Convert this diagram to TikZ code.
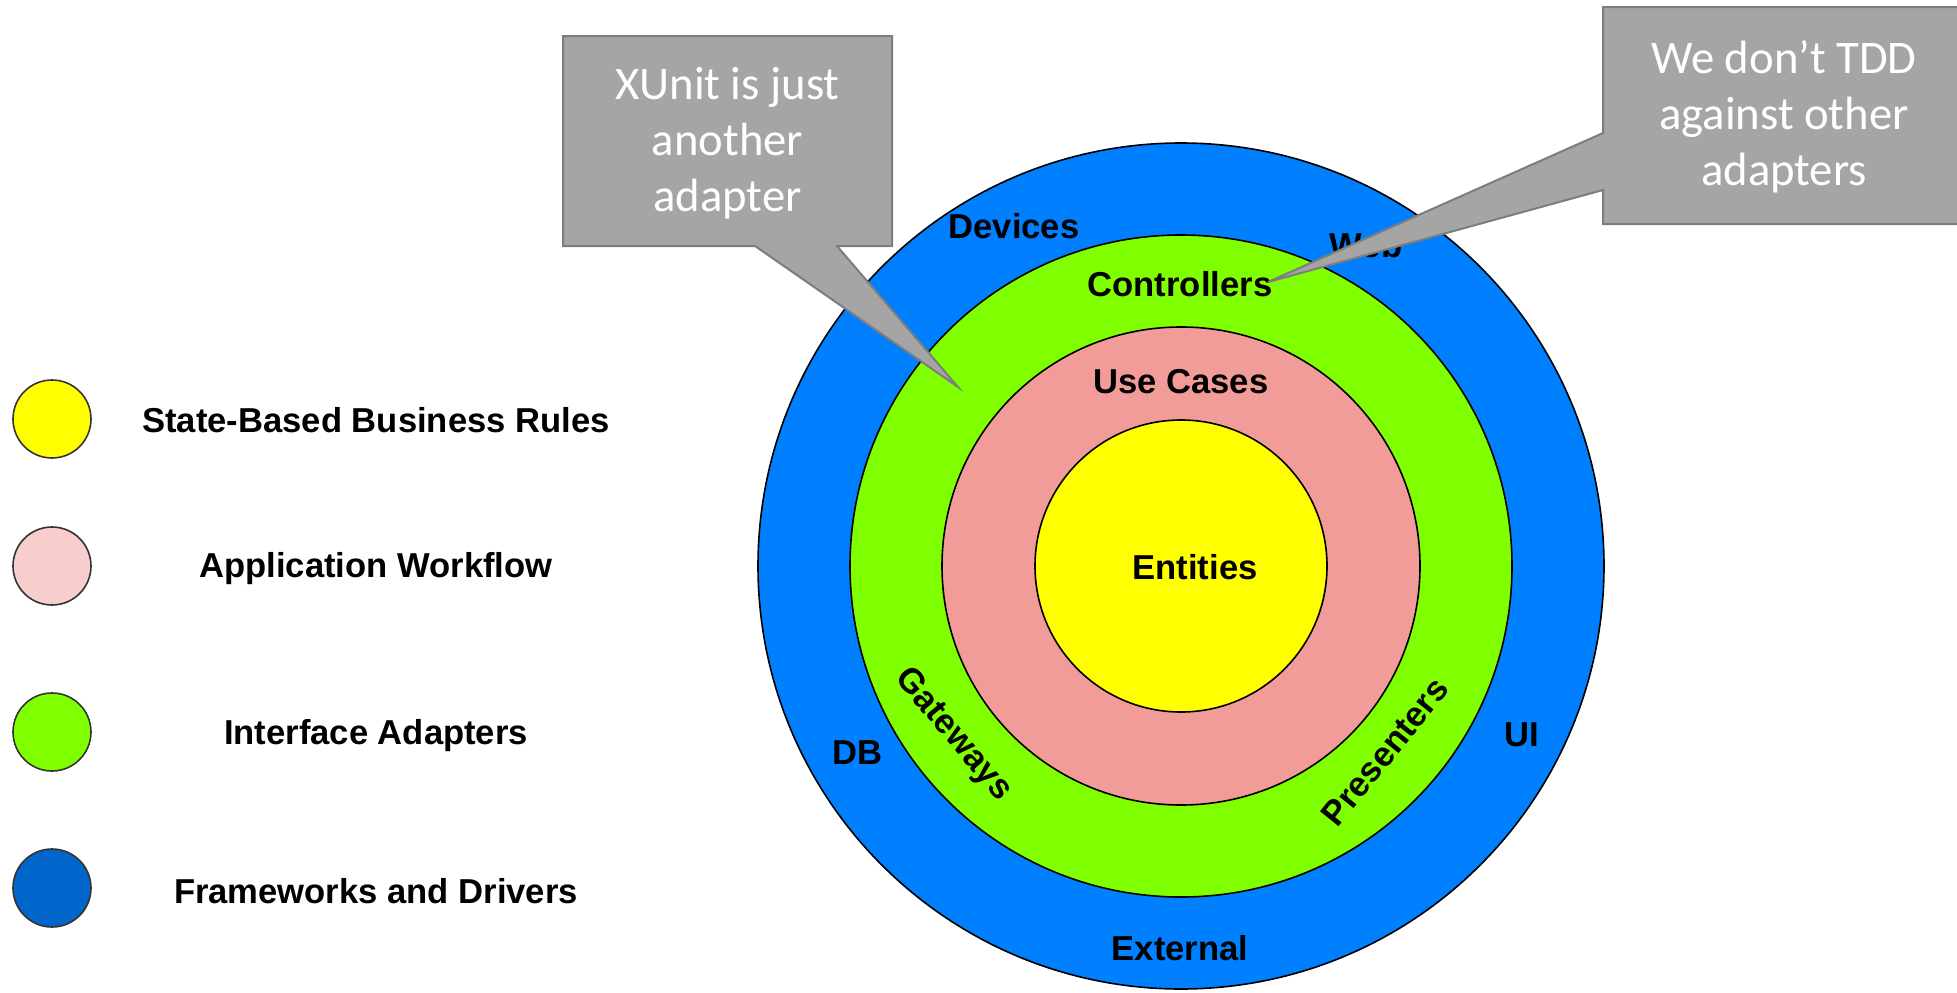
\documentclass[tikz,border=0pt]{standalone}
\usepackage{fontspec}
\setmainfont{Liberation Sans}
\newfontfamily\callfont{Carlito}
\definecolor{ringblue}{RGB}{0,127,255}
\definecolor{ringgreen}{RGB}{128,255,0}
\definecolor{ringpink}{RGB}{241,156,153}
\definecolor{ringyellow}{RGB}{255,255,0}
\definecolor{legpink}{RGB}{248,206,204}
\definecolor{legblue}{RGB}{0,102,204}
\definecolor{callfill}{RGB}{165,165,165}
\definecolor{callline}{RGB}{125,125,125}
\tikzset{
  ring/.style={draw=black, line width=1.6pt},
  legdot/.style={draw=black!80, line width=1.6pt},
  lbl/.style={font=\fontsize{34.6}{40}\selectfont\bfseries, inner sep=0pt},
  calltext/.style={font=\callfont\fontsize{46.7}{56}\selectfont, text=white, align=center, inner sep=0pt},
  callshape/.style={fill=callfill, draw=callline, line width=2pt, line join=miter}
}
\begin{document}
\begin{tikzpicture}[x=1pt,y=-1pt]
\useasboundingbox (0,0) rectangle (1957,993);
% rings
\coordinate (ctr) at (1181,566);
\path[ring, fill=ringblue] (ctr) circle[radius=423pt];
\path[ring, fill=ringgreen] (ctr) circle[radius=331pt];
\path[ring, fill=ringpink] (ctr) circle[radius=239pt];
\path[ring, fill=ringyellow] (ctr) circle[radius=146pt];
% ring labels
\node[lbl] (lEnt) at (1195,567) {Entities};
\node[lbl] (lUse) at (1181,382) {Use Cases};
\node[lbl] (lCtl) at (1180,284) {Controllers};
\node[lbl] (lDev) at (1014,226) {Devices};
\node[lbl] (lWeb) at (1366,245) {Web};
\node[lbl] (lDB) at (857,753) {DB};
\node[lbl] (lUI) at (1522,735) {UI};
\node[lbl] (lExt) at (1180,948) {External};
\node[lbl, rotate=-50] (lGate) at (953,735) {Gateways};
\node[lbl, rotate=51] (lPres) at (1385,752) {Presenters};
% legend
\path[legdot, fill=ringyellow] (52,419) circle[radius=39pt];
\path[legdot, fill=legpink] (52,566) circle[radius=39pt];
\path[legdot, fill=ringgreen] (52,732) circle[radius=39pt];
\path[legdot, fill=legblue] (52,888) circle[radius=39pt];
\node[lbl] (t1) at (376,420) {State-Based Business Rules};
\node[lbl] (t2) at (376,569) {Application Workflow};
\node[lbl] (t3) at (376,736) {Interface Adapters};
\node[lbl] (t4) at (376,891) {Frameworks and Drivers};
% callouts
\coordinate (tipL) at (958,387);
\coordinate (tipR) at (1268,282);
\draw[callshape] (563,36) -- (892,36) -- (892,246) -- (837,246) -- (tipL) -- (755,246) -- (563,246) -- cycle;
\draw[callshape] (1603,7) -- (1970,7) -- (1970,224) -- (1603,224) -- (1603,190) -- (tipR) -- (1603,133) -- cycle;
\node[calltext] (cL) at (727.5,143) {XUnit is just\\another\\adapter};
\node[calltext] (cR) at (1784,117) {We don’t TDD\\against other\\adapters};
\end{tikzpicture}
\end{document}
